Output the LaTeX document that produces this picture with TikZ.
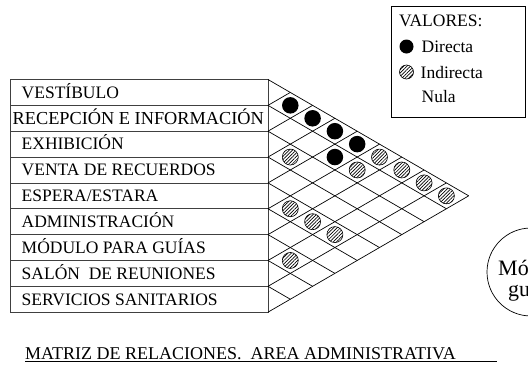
\documentclass[tikz,border=0pt]{standalone}
\usepackage{fontspec}
\setmainfont{Liberation Serif}
\usetikzlibrary{patterns.meta}
\begin{document}
\begin{tikzpicture}[x=1pt,y=-1pt,
  font=\fontsize{17.5}{20}\selectfont,
  gridline/.style={line width=0.7pt},
  tab/.style={draw=black!75, line width=0.8pt},
  direct/.style={circle, fill=black, inner sep=0pt, minimum size=16.5pt},
  indirect/.style={circle, draw=black, line width=0.6pt,
    pattern={Lines[angle=45,distance=2.4pt,line width=0.7pt]},
    inner sep=0pt, minimum size=16pt},
  lbl/.style={anchor=base west, inner sep=0pt}]
\useasboundingbox (0,0) rectangle (528,368);
\def\T{79.5}
\def\H{25.85}
\def\D{22.3}
% table rows
\foreach \i in {0,...,8}
  \draw[tab] (10,{\T+\i*\H}) rectangle (268,{\T+(\i+1)*\H});
\node[lbl] (r0) at (21.5,{\T+0.5*\H+5.8}) {VESTÍBULO};
\node[lbl, font=\fontsize{18.3}{20}\selectfont] (r1) at (12.5,{\T+1.5*\H+5.8}) {RECEPCIÓN E INFORMACIÓN};
\node[lbl] (r2) at (21.5,{\T+2.5*\H+5.8}) {EXHIBICIÓN};
\node[lbl] (r3) at (21.5,{\T+3.5*\H+5.8}) {VENTA DE RECUERDOS};
\node[lbl] (r4) at (21.5,{\T+4.5*\H+5.8}) {ESPERA/ESTARA};
\node[lbl] (r5) at (21.5,{\T+5.5*\H+5.8}) {ADMINISTRACIÓN};
\node[lbl] (r6) at (21.5,{\T+6.5*\H+5.8}) {MÓDULO PARA GUÍAS};
\node[lbl] (r7) at (21.5,{\T+7.5*\H+5.8}) {SALÓN~ DE REUNIONES};
\node[lbl] (r8) at (21.5,{\T+8.5*\H+5.8}) {SERVICIOS SANITARIOS};
% matrix grid
\foreach \k in {0,...,8}
  \draw[gridline] (268,{\T+\k*\H}) -- ({268+(9-\k)*\D},{\T+(\k+(9-\k)/2)*\H});
\foreach \k in {1,...,9}
  \draw[gridline] (268,{\T+\k*\H}) -- ({268+\k*\D},{\T+\k/2*\H});
% relations
\foreach \i/\j in {0/1,0/2,0/3,0/4,1/4}
  \node[direct] (d\i\j) at ({268+(\j-\i)*\D},{\T+((\i+\j)/2+0.5)*\H}) {};
\foreach \i/\j in {0/5,0/6,0/7,0/8,1/5,2/3,4/5,4/6,4/7,6/7}
  \node[indirect] (h\i\j) at ({268+(\j-\i)*\D},{\T+((\i+\j)/2+0.5)*\H}) {};
% legend
\node[draw, line width=0.8pt, anchor=north west, minimum width=134pt, minimum height=111pt, inner sep=0pt] (legend) at (391,5.5) {};
\node[lbl] (valores) at (399,26) {VALORES:};
\node[direct, minimum size=14pt] (ld) at (406.5,46.5) {};
\node[lbl] (ldt) at (421.5,52.5) {Directa};
\node[indirect, minimum size=14pt] (li) at (406.5,72) {};
\node[lbl] (lit) at (420.5,78) {Indirecta};
\node[lbl] (lnt) at (421.5,102) {Nula};
% circle at right
\node[circle, draw, line width=0.7pt, minimum size=88pt, inner sep=0pt] (mod) at (531,272) {};
\node[lbl, font=\fontsize{22}{24}\selectfont] (modt1) at (498,275) {Mó};
\node[lbl, font=\fontsize{22}{24}\selectfont] (modt2) at (508,296) {gu};
% title
\node[lbl, font=\fontsize{18}{20}\selectfont] (title) at (25,359.5) {MATRIZ DE RELACIONES.~ AREA ADMINISTRATIVA};
\coordinate (ulend) at (497,361.5);
\draw[line width=0.8pt] (title.base west |- ulend) -- (ulend);
\end{tikzpicture}
\end{document}
